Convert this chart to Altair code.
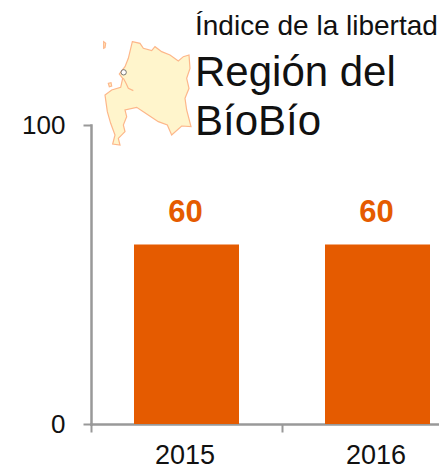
import altair as alt
import pandas as pd

years = ["2015", "2016"]
values = [60, 60]
BAR = "#E55B00"
AXIS = "#999999"

# Map outline of the region (arbitrary map units)
map_x = [127,150,160,185,195,215,240,265,280,297,300,290,297,285,290,303,275,245,232,205,160,140,105,110,100,105,85,90,68,75,62,52,45,65,92,98,88,105,115,127]
map_y = [125,130,145,152,140,155,165,183,170,165,205,235,265,295,330,380,378,405,375,365,335,322,330,350,375,395,415,435,432,405,370,335,285,270,262,235,222,200,175,125]
inlet_x = [100,108,115,130]
inlet_y = [235,250,265,272]
island_a_x = [55,63,65,58,55]
island_a_y = [250,248,258,260,250]
island_b_x = [41,47,45,41,41]
island_b_y = [125,130,143,145,125]
dot_x = [109,107,101,95,93,95,101,107,109]
dot_y = [217,223,225,223,217,211,209,211,217]

df = pd.DataFrame({"year": years, "value": values})

def polygon(xs, ys):
    return {"type": "Feature", "properties": {}, "geometry": {"type": "Polygon", "coordinates": [[[a, b] for a, b in zip(xs, ys)]]}}

def line(xs, ys):
    return {"type": "Feature", "properties": {}, "geometry": {"type": "LineString", "coordinates": [[a, b] for a, b in zip(xs, ys)]}}

proj = dict(type="identity", scale=1/3, translate=[90 - 91, 0 - 125])

x_scale = alt.Scale(domain=years, range=[0, 382], paddingInner=0, paddingOuter=0)
y_scale = alt.Scale(domain=[0, 100], range=[299, 0])

bars = alt.Chart(df).mark_bar(color=BAR, size=105).encode(
    x=alt.X("year:N", scale=x_scale, title=None,
            axis=alt.Axis(labelAngle=0, labelFontSize=27, labelFont="Liberation Sans", labelColor="#111111",
                          tickBand="extent", tickSize=8, tickWidth=2, tickColor=AXIS, labelOffset=-2,
                          domainColor=AXIS, domainWidth=2.5, labelPadding=10, grid=False)),
    y=alt.Y("value:Q", scale=y_scale, title=None,
            axis=alt.Axis(values=[0, 100], labelFontSize=26, labelFont="Liberation Sans", labelColor="#111111",
                          tickSize=8, tickWidth=2, tickColor=AXIS, domainColor=AXIS, domainWidth=2.5,
                          labelPadding=18, grid=False)),
)

labels = alt.Chart(df).mark_text(color=BAR, fontSize=31, fontWeight="bold", font="Liberation Sans", dy=-32, dx=-1).encode(
    x=alt.X("year:N", scale=x_scale), y=alt.Y("value:Q", scale=y_scale), text="value:Q")

shape = alt.Chart(alt.Data(values=[polygon(map_x, map_y), polygon(island_a_x, island_a_y), polygon(island_b_x, island_b_y)])).mark_geoshape(
    fill="#FFF5CC", stroke="#FDB78A", strokeWidth=1.2, clip=False).project(**proj)
inlet = alt.Chart(alt.Data(values=[line(inlet_x, inlet_y)])).mark_geoshape(
    filled=False, stroke="#FDB78A", strokeWidth=1.2, clip=False).project(**proj)
dot = alt.Chart(alt.Data(values=[polygon(dot_x, dot_y)])).mark_geoshape(
    fill="white", stroke="#555555", strokeWidth=0.8, clip=False).project(**proj)

def title_text(t, px, size):
    return alt.Chart(pd.DataFrame({"t": [t]})).mark_text(
        align="left", baseline="alphabetic", fontSize=size, font="Liberation Sans", color="#111111"
    ).encode(x=alt.value(195 - 91), y=alt.value(px - 125), text="t:N")

chart = alt.layer(
    bars, labels, shape, inlet, dot,
    title_text("Índice de la libertad", 35, 28),
    title_text("Región del", 86, 42),
    title_text("BíoBío", 135, 42),
).properties(
    width=348, height=299,
    autosize=alt.AutoSizeParams(type="none"),
    padding={"left": 83, "top": 117, "right": 0, "bottom": 47},
).configure_view(stroke=None).configure_axis(domainCap="square")

chart.save("out.html", embed_options={"renderer": "svg", "actions": False})
